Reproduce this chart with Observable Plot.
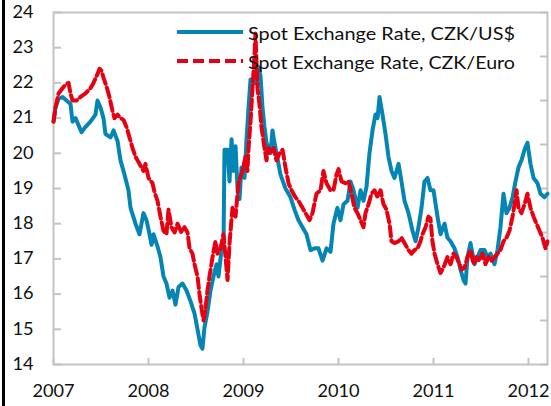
<!DOCTYPE html>
<html>
<head>
<meta charset="utf-8">
<script src="https://cdn.jsdelivr.net/npm/d3@7"></script>
<script src="https://cdn.jsdelivr.net/npm/@observablehq/plot@0.6"></script>
<style>
  html, body { margin: 0; padding: 0; background: #fff; }
  #wrap { position: relative; width: 551px; height: 406px; overflow: hidden; }
  #bar { position: absolute; left: 2px; top: 0; width: 3px; height: 406px; background: #000; }
  #legend { position: absolute; left: 0; top: 0; pointer-events: none; }
</style>
</head>
<body>
<div id="wrap"><div id="bar"></div></div>
<script>
// ---- data (decimal year, CZK per unit) ----
const usdYears = [2007.000,2007.021,2007.053,2007.095,2007.137,2007.179,2007.200,2007.232,2007.263,2007.295,2007.337,2007.389,2007.442,2007.463,2007.495,2007.526,2007.547,2007.600,2007.632,2007.674,2007.705,2007.747,2007.789,2007.811,2007.863,2007.905,2007.947,2007.979,
2008.011,2008.032,2008.053,2008.095,2008.126,2008.158,2008.189,2008.221,2008.253,2008.284,2008.316,2008.358,2008.400,2008.442,2008.484,2008.516,2008.547,2008.568,2008.589,2008.621,2008.653,2008.684,2008.716,2008.737,2008.768,2008.789,2008.800,2008.832,2008.853,2008.874,2008.895,2008.916,2008.937,2008.958,2008.979,
2009.011,2009.032,2009.053,2009.074,2009.105,2009.137,2009.158,2009.179,2009.200,2009.221,2009.242,2009.263,2009.284,2009.305,2009.326,2009.347,2009.389,2009.442,2009.495,2009.537,2009.579,2009.621,2009.663,2009.705,2009.747,2009.789,2009.832,2009.874,2009.916,2009.947,2009.989,
2010.021,2010.053,2010.095,2010.126,2010.158,2010.200,2010.232,2010.263,2010.295,2010.326,2010.358,2010.389,2010.411,2010.432,2010.463,2010.495,2010.526,2010.558,2010.589,2010.632,2010.663,2010.695,2010.737,2010.779,2010.811,2010.842,2010.874,2010.905,2010.937,2010.968,
2011.000,2011.042,2011.074,2011.116,2011.147,2011.179,2011.221,2011.253,2011.284,2011.316,2011.337,2011.358,2011.389,2011.432,2011.463,2011.495,2011.537,2011.568,2011.600,2011.642,2011.674,2011.705,2011.737,2011.768,2011.800,2011.832,2011.863,2011.895,2011.926,2011.958,2011.989,
2012.021,2012.053,2012.095,2012.126,2012.168,2012.200];
const usdValues = [20.9,21.3,21.55,21.6,21.5,21.4,20.9,21.0,20.8,20.6,20.75,20.9,21.1,21.5,21.3,21.0,20.55,20.45,20.65,20.35,19.8,19.4,18.95,18.45,18.0,17.7,18.3,18.1,
17.7,17.4,17.7,17.35,17.05,16.5,16.3,15.9,16.1,15.7,16.2,16.3,16.1,15.8,15.45,15.0,14.55,14.45,15.05,15.5,16.1,16.5,16.85,16.5,17.25,17.3,20.1,20.1,19.2,20.4,19.5,20.2,19.0,18.7,19.6,
19.3,20.4,21.3,22.1,22.0,22.0,22.45,22.2,21.3,20.75,20.3,20.15,20.0,20.65,20.3,20.0,19.4,19.0,18.75,18.4,18.1,17.9,17.7,17.25,17.3,17.3,16.95,17.3,17.2,18.0,18.45,
18.1,18.55,18.65,19.2,18.95,18.45,18.95,18.65,19.05,20.0,20.65,21.1,21.0,21.6,21.1,20.55,19.9,19.5,19.3,19.7,19.2,18.65,18.3,17.8,17.5,17.9,18.45,19.2,19.3,18.95,
18.95,18.2,17.7,18.0,17.6,17.5,17.3,17.05,16.7,16.4,16.3,17.05,17.45,16.85,17.05,17.25,17.25,17.05,17.15,16.85,17.25,17.9,18.85,18.3,18.45,18.75,19.2,19.6,19.8,20.1,20.3,
19.7,19.3,19.15,18.85,18.75,18.85];

const eurYears = [2007.000,2007.021,2007.053,2007.095,2007.126,2007.158,2007.179,2007.200,2007.242,2007.284,2007.337,2007.389,2007.421,2007.463,2007.484,2007.505,2007.526,2007.558,2007.589,2007.621,2007.642,2007.674,2007.705,2007.737,2007.768,2007.800,2007.832,2007.863,2007.905,2007.947,2007.968,
2008.000,2008.042,2008.063,2008.095,2008.126,2008.158,2008.189,2008.211,2008.242,2008.274,2008.305,2008.347,2008.379,2008.411,2008.432,2008.463,2008.484,2008.516,2008.537,2008.558,2008.579,2008.600,2008.621,2008.642,2008.674,2008.705,2008.726,2008.758,2008.789,2008.811,2008.832,2008.853,2008.884,2008.916,2008.947,2008.989,
2009.021,2009.042,2009.053,2009.074,2009.095,2009.116,2009.126,2009.147,2009.168,2009.189,2009.221,2009.242,2009.263,2009.284,2009.316,2009.347,2009.379,2009.411,2009.442,2009.474,2009.505,2009.547,2009.579,2009.621,2009.653,2009.695,2009.726,2009.768,2009.811,2009.842,2009.874,2009.916,2009.947,2009.979,
2010.000,2010.032,2010.074,2010.105,2010.137,2010.168,2010.200,2010.232,2010.263,2010.284,2010.316,2010.347,2010.379,2010.411,2010.442,2010.474,2010.505,2010.537,2010.558,2010.589,2010.632,2010.663,2010.695,2010.737,2010.768,2010.800,2010.832,2010.863,2010.884,2010.916,2010.947,2010.968,2010.989,
2011.011,2011.042,2011.074,2011.105,2011.147,2011.179,2011.211,2011.242,2011.274,2011.295,2011.326,2011.358,2011.389,2011.421,2011.453,2011.484,2011.516,2011.547,2011.579,2011.611,2011.642,2011.674,2011.705,2011.737,2011.768,2011.800,2011.832,2011.853,2011.874,2011.895,2011.926,2011.958,2011.989,
2012.021,2012.053,2012.084,2012.116,2012.147,2012.179,2012.200];
const eurValues = [20.9,21.3,21.7,21.85,21.95,22.0,21.7,21.5,21.5,21.6,21.7,21.85,22.0,22.25,22.4,22.35,22.15,21.9,21.6,21.2,21.0,21.1,21.0,20.95,20.75,20.45,20.15,19.9,19.7,19.5,19.7,
19.3,19.15,18.9,18.65,18.2,17.8,17.7,18.4,17.9,17.75,18.0,17.75,17.9,17.75,17.3,17.15,16.85,16.5,16.0,15.6,15.25,15.6,16.1,16.5,17.05,17.5,17.15,17.3,17.7,17.05,16.4,17.45,18.45,18.2,19.15,19.5,
19.9,19.5,20.15,20.9,21.85,22.8,23.4,21.85,21.4,20.75,20.15,19.8,20.15,20.0,20.15,19.8,20.0,20.1,19.6,19.15,18.95,18.75,18.65,18.45,18.3,18.1,18.3,18.85,18.95,19.5,19.15,18.95,18.95,19.4,
19.55,19.2,19.15,19.2,18.85,18.45,18.3,18.1,17.9,18.3,18.55,18.85,18.95,18.75,18.95,18.55,18.4,18.0,17.5,17.45,17.5,17.6,17.45,17.25,17.15,17.25,17.3,17.5,17.7,17.9,18.2,18.15,17.5,
17.15,16.85,16.6,16.75,17.05,16.85,17.15,17.05,16.85,16.7,16.75,17.05,17.25,16.85,17.05,16.95,17.15,16.85,17.05,16.95,17.05,17.15,17.25,17.5,17.6,17.8,18.2,18.55,18.95,18.45,18.3,18.55,18.85,
18.45,18.2,18.0,17.8,17.6,17.3,17.5];

const yTicks = [14,15,16,17,18,19,20,21,22,23,24];
const yTicksRight = [14,15.25,16.5,17.75,19,20.25,21.5,22.75,24];
const xTicks = [2007,2008,2009,2010,2011,2012];
const seriesNames = ["Spot Exchange Rate, CZK/US$", "Spot Exchange Rate, CZK/Euro"];
const seriesColors = ["#0485b3", "#e60012"];

const usd = usdYears.map((t, i) => ({t, v: usdValues[i]}));
const eur = eurYears.map((t, i) => ({t, v: eurValues[i]}));

const FONT = "Lato, 'Open Sans', sans-serif";
const gray = "#c3c3c3";

const chart = Plot.plot({
  width: 551,
  height: 406,
  marginLeft: 53,
  marginRight: 4,
  marginTop: 12,
  marginBottom: 42,
  style: {fontFamily: FONT, fontSize: "16.5px", background: "#fff", color: "#111"},
  x: {domain: [2007, 2012.2]},
  y: {domain: [14, 24]},
  marks: [
    Plot.frame({stroke: gray, strokeWidth: 2}),
    Plot.axisY(yTicks, {anchor: "left", tickSize: -8, tickPadding: 28, stroke: gray, strokeWidth: 2, fill: "#111", fontSize: 16.5, label: null, tickFormat: d => String(d)}),
    Plot.axisY(yTicksRight, {anchor: "right", tickSize: -8, stroke: gray, strokeWidth: 2, label: null, tickFormat: () => ""}),
    Plot.axisX(xTicks, {anchor: "bottom", tickSize: -6, tickPadding: 27, stroke: gray, strokeWidth: 2, fill: "#111", fontSize: 16.5, label: null, tickFormat: d => String(d)}),
    Plot.line(usd, {x: "t", y: "v", stroke: seriesColors[0], strokeWidth: 4, strokeLinejoin: "round", curve: "linear"}),
    Plot.line(eur, {x: "t", y: "v", stroke: seriesColors[1], strokeWidth: 4, strokeDasharray: "10,4", strokeLinejoin: "round", curve: "linear"})
  ]
});

const wrap = document.getElementById("wrap");
wrap.insertBefore(chart, wrap.firstChild);

// widen tick labels slightly to match the reference's wide glyphs
chart.querySelectorAll("text").forEach(t => {
  if (!t.textContent) return;
  const len = t.getComputedTextLength();
  t.setAttribute("textLength", (len * 1.1).toFixed(1));
  t.setAttribute("lengthAdjust", "spacingAndGlyphs");
});

// legend overlay (inside plot area, top right)
const ns = "http://www.w3.org/2000/svg";
const leg = document.createElementNS(ns, "svg");
leg.setAttribute("id", "legend");
leg.setAttribute("width", 551);
leg.setAttribute("height", 406);
const rows = [{y: 32, dash: null, base: 39.5}, {y: 61, dash: "11,5", base: 68.5}];
rows.forEach((r, i) => {
  const ln = document.createElementNS(ns, "line");
  ln.setAttribute("x1", 177); ln.setAttribute("x2", 243);
  ln.setAttribute("y1", r.y); ln.setAttribute("y2", r.y);
  ln.setAttribute("stroke", seriesColors[i]);
  ln.setAttribute("stroke-width", 4);
  if (r.dash) ln.setAttribute("stroke-dasharray", r.dash);
  leg.appendChild(ln);
  const tx = document.createElementNS(ns, "text");
  tx.setAttribute("x", 248); tx.setAttribute("y", r.base);
  tx.setAttribute("font-family", FONT);
  tx.setAttribute("font-size", "16.5");
  tx.setAttribute("fill", "#111");
  tx.textContent = seriesNames[i];
  leg.appendChild(tx);
});
wrap.appendChild(leg);
leg.querySelectorAll("text").forEach(t => {
  t.setAttribute("textLength", 267);
  t.setAttribute("lengthAdjust", "spacingAndGlyphs");
});
</script>
</body>
</html>
